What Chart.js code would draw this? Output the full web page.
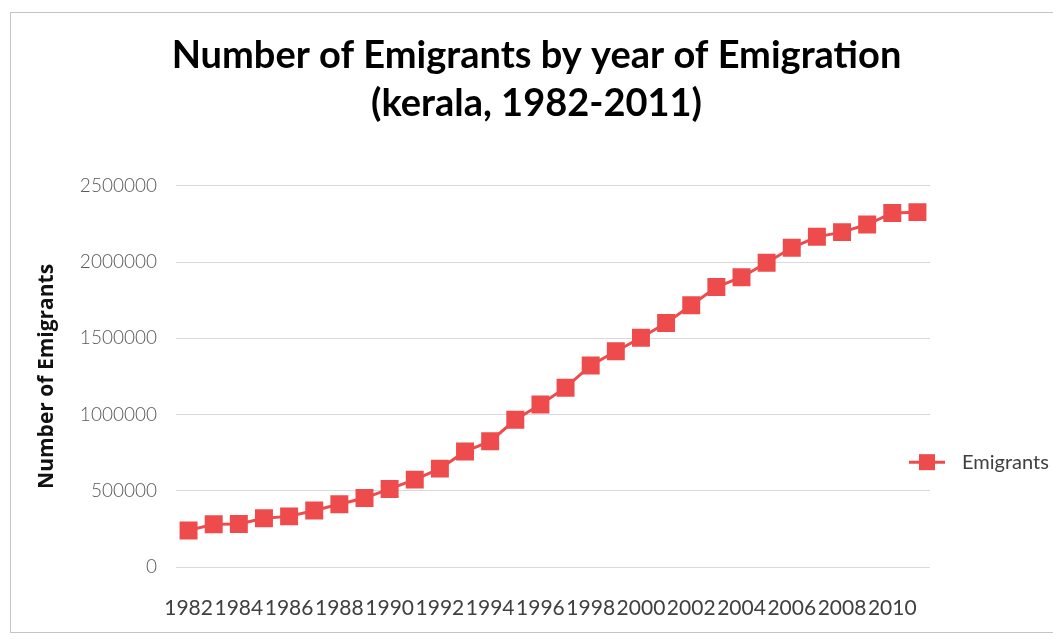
<!DOCTYPE html>
<html>
<head>
<meta charset="utf-8">
<script src="https://cdn.jsdelivr.net/npm/chart.js@4.4.1/dist/chart.umd.min.js"></script>
<style>
  html, body { margin: 0; padding: 0; background: #fff; }
  #wrap { position: relative; width: 1053px; height: 639px; }
</style>
</head>
<body>
<div id="wrap"><canvas id="emigrantsChart"></canvas></div>
<script>
const years = [1982, 1983, 1984, 1985, 1986, 1987, 1988, 1989, 1990, 1991,
  1992, 1993, 1994, 1995, 1996, 1997, 1998, 1999, 2000, 2001,
  2002, 2003, 2004, 2005, 2006, 2007, 2008, 2009, 2010, 2011];
const emigrants = [240000, 280000, 282000, 320000, 332000, 370000, 412000, 452000, 512000, 573000,
  645000, 758000, 824000, 965000, 1065000, 1176000, 1322000, 1415000, 1503000, 1600000,
  1717000, 1836000, 1900000, 1995000, 2093000, 2165000, 2196000, 2246000, 2322000, 2327000];
const yTicks = [0, 500000, 1000000, 1500000, 2000000, 2500000];

const red = '#ee4c4c';

// frame around the whole chart
const framePlugin = {
  id: 'frame',
  beforeDraw(chart) {
    const c = chart.ctx;
    c.save();
    c.fillStyle = '#fff';
    c.fillRect(0, 0, chart.width, chart.height);
    c.strokeStyle = '#c4c4c4';
    c.lineWidth = 1;
    c.strokeRect(10.5, 12.5, chart.width, 620);
    c.restore();
  }
};

// legend drawn as line + square marker, right of the plot
const sideLegend = {
  id: 'sideLegend',
  afterDraw(chart) {
    const c = chart.ctx;
    const area = chart.chartArea;
    const x = area.right - 21;
    const y = area.top + (area.bottom - area.top) * 0.725;
    c.save();
    c.strokeStyle = red;
    c.lineWidth = 3;
    c.beginPath();
    c.moveTo(x, y);
    c.lineTo(x + 36, y);
    c.stroke();
    c.fillStyle = red;
    c.fillRect(x + 10, y - 8, 16, 16);
    c.fillStyle = '#404040';
    c.font = '20px Lato, "Open Sans", sans-serif';
    c.textBaseline = 'middle';
    c.textAlign = 'left';
    c.fillText(chart.data.datasets[0].label, x + 53, y);
    c.restore();
  }
};

const ctx = document.getElementById('emigrantsChart').getContext('2d');

const chart = new Chart(ctx, {
  type: 'line',
  data: {
    labels: years,
    datasets: [{
      label: 'Emigrants',
      data: emigrants,
      borderColor: red,
      backgroundColor: red,
      borderWidth: 3,
      pointStyle: 'rect',
      pointRadius: 12.7,
      pointHoverRadius: 12.7,
      pointBackgroundColor: red,
      pointBorderColor: red,
      pointBorderWidth: 0,
      tension: 0
    }]
  },
  options: {
    responsive: true,
    maintainAspectRatio: false,
    animation: false,
    layout: { padding: { left: 20, right: 0, top: 0, bottom: 0 } },
    plugins: {
      legend: { display: false },
      tooltip: { enabled: false },
      title: {
        display: true,
        text: ['Number of Emigrants by year of Emigration', '(kerala, 1982-2011)'],
        color: '#000',
        font: { family: 'Lato, "Open Sans", sans-serif', size: 38, weight: 'bold', lineHeight: 1.26 },
        padding: { top: 32, bottom: 58 }
      }
    },
    scales: {
      x: {
        offset: true,
        grid: { display: false, drawTicks: false },
        border: { display: false },
        ticks: {
          autoSkip: false,
          maxRotation: 0,
          padding: 29,
          color: '#404040',
          font: { family: 'Lato, "Open Sans", sans-serif', size: 21 },
          callback: function(value, index) {
            return index % 2 === 0 ? this.getLabelForValue(value) : '';
          }
        },
        afterFit(scale) { scale.height = 72; }
      },
      y: {
        min: 0,
        max: 2500000,
        afterBuildTicks(scale) { scale.ticks = yTicks.map(v => ({ value: v })); },
        grid: { color: '#d9d9d9', lineWidth: 1, drawTicks: false },
        border: { display: false },
        ticks: {
          padding: 19,
          color: '#595959',
          font: { family: 'Lato, "Open Sans", sans-serif', size: 19, weight: 300 },
          callback: v => String(v)
        },
        title: {
          display: true,
          text: 'Number of Emigrants',
          color: '#111',
          font: { family: '"Open Sans", Lato, sans-serif', size: 21, weight: 'bold' },
          padding: { top: 14, bottom: 0 }
        },
        afterFit(scale) { scale.width = 156; }
      },
      // empty strip on the right that holds the legend
      legendSpace: {
        type: 'linear',
        position: 'right',
        display: true,
        grid: { display: false, drawTicks: false },
        border: { display: false },
        ticks: { display: false },
        afterFit(scale) { scale.width = 123; }
      }
    }
  },
  plugins: [framePlugin, sideLegend]
});
</script>
</body>
</html>
